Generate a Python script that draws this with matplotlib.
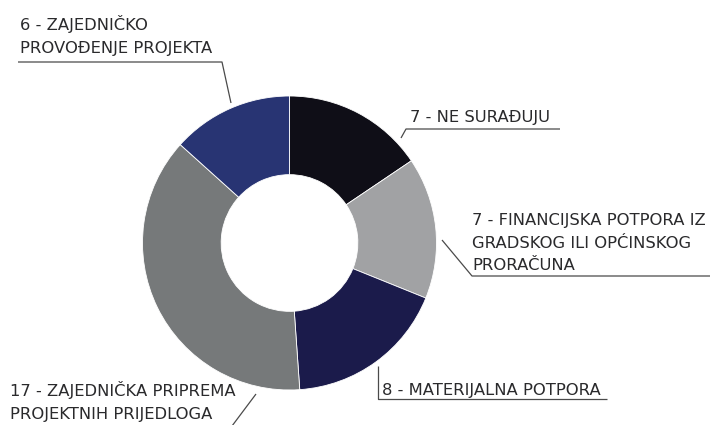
import matplotlib
matplotlib.use("Agg")
import matplotlib.pyplot as plt

# podaci
labels = ["7 - NE SURAĐUJU",
          "7 - FINANCIJSKA POTPORA IZ\nGRADSKOG ILI OPĆINSKOG\nPRORAČUNA",
          "8 - MATERIJALNA POTPORA",
          "17 - ZAJEDNIČKA PRIPREMA\nPROJEKTNIH PRIJEDLOGA",
          "6 - ZAJEDNIČKO\nPROVOĐENJE PROJEKTA"]
values = [7, 7, 8, 17, 6]
colors = ["#0f0e17", "#a1a2a4", "#1b1b4b", "#76797a", "#283473"]

W, H = 710, 425
plt.rcParams['font.family'] = ['DejaVu Sans']

fig = plt.figure(figsize=(W / 100, H / 100), dpi=100)
ax = fig.add_axes([0, 0, 1, 1])
ax.set_xlim(0, W)
ax.set_ylim(0, H)
ax.set_aspect('equal')
ax.axis('off')

def Y(py):  # pikseli od vrha -> koordinate osi
    return H - py

cx, cy, r = 289.5, 243, 147
ax.pie(values, colors=colors, startangle=90, counterclock=False,
       center=(cx, Y(cy)), radius=r,
       wedgeprops=dict(width=r * 0.535, linewidth=0.6, edgecolor='white'))
ax.set_xlim(0, W)
ax.set_ylim(0, H)

txt_col = "#2a2a2c"
line_col = "#4a4a4a"
fs = 11.8
pitch = 22.5

# (x teksta, baseline prve linije, linija vodilica u pikselima)
layout = [
    (410, 122, [(401, 138), (406, 129), (560, 129)]),
    (472, 225, [(442, 240), (472, 276), (710, 276)]),
    (382, 395, [(378, 366), (378, 399), (607, 399)]),
    (10, 396, [(232, 426), (256, 394)]),
    (20, 30, [(231, 103), (222, 62), (18, 62)]),
]

for lab, (tx, ty, pts) in zip(labels, layout):
    for i, line in enumerate(lab.split("\n")):
        ax.text(tx, Y(ty + i * pitch), line, fontsize=fs, color=txt_col,
                ha='left', va='baseline')
    ax.plot([p[0] for p in pts], [Y(p[1]) for p in pts], color=line_col,
            linewidth=0.9, solid_capstyle='butt', clip_on=False)

fig.savefig("out.png", dpi=100)
